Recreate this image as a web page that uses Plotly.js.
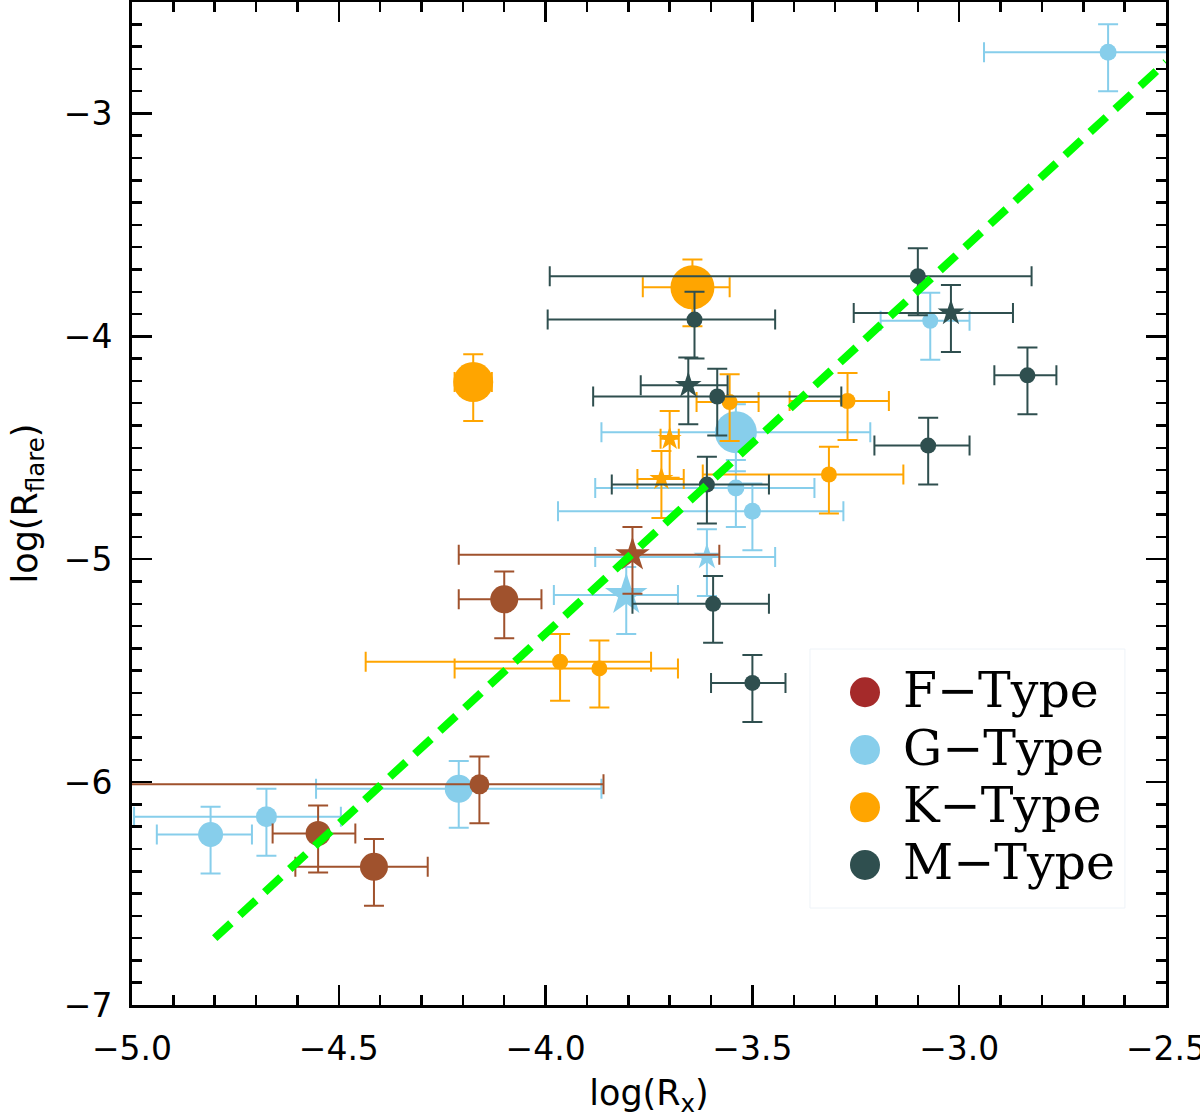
<!DOCTYPE html>
<html>
<head>
<meta charset="utf-8">
<script src="https://cdn.plot.ly/plotly-3.0.1.min.js"></script>
<style>html,body{margin:0;padding:0;background:#fff;}#chart{width:1200px;height:1118px;}</style>
</head>
<body>
<div id="chart"></div>
<script>
// ---------------- data ----------------
// F-Type
const fX = [-4.10, -3.79, -4.16, -4.55, -4.415];
const fY = [-5.18, -4.98, -6.01, -6.23, -6.38];
const fXerrMinus = [0.11, 0.42, 1.00, 0.11, 0.19];
const fXerrPlus  = [0.09, 0.21, 0.30, 0.09, 0.13];
const fYerrPlus  = [0.125, 0.125, 0.125, 0.125, 0.125];
const fYerrMinus = [0.175, 0.175, 0.175, 0.175, 0.175];
const fSize = [28, 26, 20, 25, 28];
const fSymbol = ['circle', 'star', 'circle', 'circle', 'circle'];

// G-Type
const gX = [-2.64, -3.07, -3.54, -3.54, -3.50, -3.61, -3.805, -4.21, -4.675, -4.81];
const gY = [-2.725, -3.93, -4.43, -4.68, -4.785, -4.99, -5.16, -6.03, -6.155, -6.235];
const gXerrMinus = [0.30, 0.12, 0.325, 0.34, 0.47, 0.27, 0.175, 0.345, 0.32, 0.13];
const gXerrPlus  = [0.30, 0.095, 0.325, 0.19, 0.22, 0.165, 0.125, 0.345, 0.18, 0.10];
const gYerrPlus  = [0.125, 0.125, 0.125, 0.125, 0.125, 0.125, 0.125, 0.125, 0.125, 0.125];
const gYerrMinus = [0.175, 0.175, 0.175, 0.175, 0.175, 0.175, 0.175, 0.175, 0.175, 0.175];
const gSize = [17, 16, 42, 17, 17, 20, 32, 28, 21, 25];
const gSymbol = ['circle', 'circle', 'circle', 'circle', 'circle', 'star', 'star', 'circle', 'circle', 'circle'];

// K-Type
const kX = [-3.645, -4.175, -3.555, -3.27, -3.315, -3.70, -3.72, -3.965, -3.87];
const kY = [-3.78, -4.205, -4.295, -4.29, -4.62, -4.46, -4.64, -5.46, -5.49];
const kXerrMinus = [0.12, 0.045, 0.08, 0.14, 0.305, 0.022, 0.058, 0.47, 0.35];
const kXerrPlus  = [0.09, 0.045, 0.07, 0.10, 0.18, 0.022, 0.054, 0.22, 0.19];
const kYerrPlus  = [0.125, 0.125, 0.125, 0.125, 0.125, 0.125, 0.125, 0.125, 0.125];
const kYerrMinus = [0.175, 0.175, 0.175, 0.175, 0.175, 0.175, 0.175, 0.175, 0.175];
const kSize = [44, 40, 16, 16, 16, 18, 18, 16, 16];
const kSymbol = ['circle', 'circle', 'circle', 'circle', 'circle', 'star', 'star', 'circle', 'circle'];

// M-Type
const mX = [-3.10, -3.02, -2.835, -3.64, -3.655, -3.585, -3.61, -3.595, -3.50, -3.075];
const mY = [-3.73, -3.895, -4.175, -3.925, -4.22, -4.27, -4.665, -5.20, -5.555, -4.49];
const mXerrMinus = [0.89, 0.235, 0.08, 0.355, 0.115, 0.30, 0.23, 0.195, 0.10, 0.13];
const mXerrPlus  = [0.275, 0.15, 0.07, 0.195, 0.095, 0.30, 0.15, 0.135, 0.08, 0.10];
const mYerrPlus  = [0.125, 0.125, 0.125, 0.125, 0.125, 0.125, 0.125, 0.125, 0.125, 0.125];
const mYerrMinus = [0.175, 0.175, 0.175, 0.175, 0.175, 0.175, 0.175, 0.175, 0.175, 0.175];
const mSize = [16, 20, 16, 16, 20, 16, 16, 16, 16, 16];
const mSymbol = ['circle', 'star', 'circle', 'circle', 'star', 'circle', 'circle', 'circle', 'circle', 'circle'];

// relation line
const fitX = [-4.80, -2.50];
const fitY = [-6.70, -2.77];

// legend
const legendLabels = ['F\u2212Type', 'G\u2212Type', 'K\u2212Type', 'M\u2212Type'];
const legendColors = ['#A52A2A', '#87CEEB', '#FFA500', '#2F4F4F'];

// axis ticks
const xTickVals = [-5.0, -4.5, -4.0, -3.5, -3.0, -2.5];
const yTickVals = [-7, -6, -5, -4, -3];

// ---------------- build ----------------
function typeTrace(x, y, xm, xp, yp, ym, size, symbol, color) {
  return {
    type: 'scatter', mode: 'markers', x: x, y: y, showlegend: false,
    marker: { color: color, size: size, symbol: symbol, opacity: 1, line: { width: 0 } },
    error_x: { type: 'data', symmetric: false, array: xp, arrayminus: xm, color: color, thickness: 2, width: 10 },
    error_y: { type: 'data', symmetric: false, array: yp, arrayminus: ym, color: color, thickness: 2, width: 10 },
    hoverinfo: 'x+y'
  };
}

const traces = [
  typeTrace(gX, gY, gXerrMinus, gXerrPlus, gYerrPlus, gYerrMinus, gSize, gSymbol, '#87CEEB'),
  typeTrace(kX, kY, kXerrMinus, kXerrPlus, kYerrPlus, kYerrMinus, kSize, kSymbol, '#FFA500'),
  typeTrace(mX, mY, mXerrMinus, mXerrPlus, mYerrPlus, mYerrMinus, mSize, mSymbol, '#2F4F4F'),
  typeTrace(fX, fY, fXerrMinus, fXerrPlus, fYerrPlus, fYerrMinus, fSize, fSymbol, '#A0522D'),
  {
    type: 'scatter', mode: 'lines', x: fitX, y: fitY, showlegend: false,
    line: { color: '#00FF00', width: 8, dash: '22px,12px' }, hoverinfo: 'skip'
  }
];

// legend drawn as shapes + annotations (paper coords)
const legX = 0.7089, legTextX = 0.7434;
const legY = [0.3118, 0.2542, 0.1971, 0.1396];
const shapes = [{
  type: 'rect', xref: 'paper', yref: 'paper', x0: 0.6557, x1: 0.9603, y0: 0.0967, y1: 0.3549,
  line: { color: '#eef3f8', width: 1 }, fillcolor: 'rgba(255,255,255,0)'
}];
const annotations = [];
legendLabels.forEach(function (lab, i) {
  shapes.push({
    type: 'circle', xref: 'paper', yref: 'paper', xsizemode: 'pixel', ysizemode: 'pixel',
    xanchor: legX, yanchor: legY[i], x0: -15, x1: 15, y0: -15, y1: 15,
    fillcolor: legendColors[i], line: { width: 0 }
  });
  annotations.push({
    xref: 'paper', yref: 'paper', x: legTextX, y: legY[i], xanchor: 'left', yanchor: 'middle',
    text: lab, showarrow: false, yshift: 2,
    font: { family: 'DejaVu Serif', size: 49, color: '#000' }
  });
});

const TICKFONT = { family: 'DejaVu Sans, sans-serif', size: 33, color: '#000' };
const TITLEFONT = { family: 'DejaVu Sans, sans-serif', size: 35, color: '#000' };

const axisCommon = {
  showline: true, linewidth: 3, linecolor: '#000', mirror: 'allticks',
  ticks: 'inside', ticklen: 20, tickwidth: 2.5, tickcolor: '#000',
  showgrid: false, zeroline: false, automargin: false,
  ticklabeloverflow: 'allow',
  tickfont: TICKFONT
};

const layout = {
  width: 1200, height: 1118,
  margin: { l: 132, r: 34, t: 2, b: 113 },
  paper_bgcolor: '#fff', plot_bgcolor: '#fff',
  xaxis: Object.assign({}, axisCommon, {
    range: [-5, -2.5], tickmode: 'array', tickvals: xTickVals, tickformat: '.1f',
    ticklabelstandoff: 12,
    minor: { dtick: 0.1, tick0: -5, ticks: 'inside', ticklen: 10, tickwidth: 2.5, tickcolor: '#000', showgrid: false },
    title: { text: 'log(R<sub>x</sub>)', standoff: 14, font: TITLEFONT }
  }),
  yaxis: Object.assign({}, axisCommon, {
    range: [-7, -2.5], tickmode: 'array', tickvals: yTickVals, tickformat: 'd',
    ticklabelstandoff: 10,
    minor: { dtick: 0.1, tick0: -7, ticks: 'inside', ticklen: 10, tickwidth: 2.5, tickcolor: '#000', showgrid: false },
    title: { text: 'log(R<sub>flare</sub>)', standoff: 16, font: TITLEFONT }
  }),
  shapes: shapes,
  annotations: annotations
};

Plotly.newPlot('chart', traces, layout, { displayModeBar: false, staticPlot: true });
</script>
</body>
</html>
